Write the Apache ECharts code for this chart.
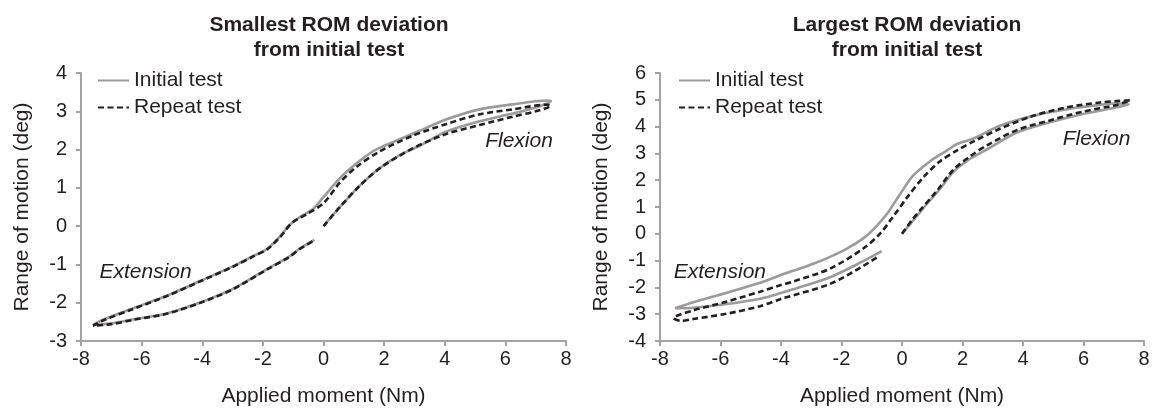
<!DOCTYPE html>
<html>
<head>
<meta charset="utf-8">
<script src="https://cdn.jsdelivr.net/npm/echarts@6/dist/echarts.min.js"></script>
<style>
  html, body { margin: 0; padding: 0; background: #fff; }
  #chart { width: 1153px; height: 412px; }
</style>
</head>
<body>
<div id="chart"></div>
<script>
// ROM hysteresis loops, [moment Nm, rotation deg]
const titles = ["Smallest ROM deviation\nfrom initial test", "Largest ROM deviation\nfrom initial test"];

const leftInitial = [
  [0, 0], [0.53, 0.49], [1.19, 1.05], [1.85, 1.51], [2.5, 1.85], [3.17, 2.1], [4.06, 2.47],
  [5.15, 2.74], [6.24, 2.94], [7.0, 3.1], [7.5, 3.27],
  [7.36, 3.28], [6.24, 3.18], [5.15, 3.05], [4.06, 2.79], [3.17, 2.49], [2.4, 2.23], [1.95, 2.08],
  [1.62, 1.95], [1.09, 1.64], [0.53, 1.24], [0, 0.76], [-0.36, 0.44], [-0.79, 0.23], [-1.12, 0.03],
  [-1.45, -0.28], [-1.85, -0.59], [-2.34, -0.79], [-2.99, -1.05], [-4.09, -1.44], [-5.18, -1.82],
  [-6.3, -2.15], [-7.2, -2.42], [-7.6, -2.58],
  [-7.0, -2.54], [-6.3, -2.44], [-5.18, -2.28], [-4.09, -2.0], [-2.99, -1.64], [-1.88, -1.13],
  [-1.12, -0.79], [-0.79, -0.59], [-0.3, -0.36]
];
const leftRepeat = [
  [0, 0], [0.53, 0.49], [1.19, 1.05], [1.85, 1.51], [2.94, 2.03], [4.06, 2.41], [5.15, 2.64],
  [6.24, 2.86], [7.0, 3.0], [7.5, 3.15],
  [7.36, 3.17], [6.24, 3.05], [5.15, 2.92], [4.06, 2.67], [2.94, 2.36], [1.85, 1.95], [1.09, 1.55],
  [0.53, 1.13], [0, 0.6], [-0.56, 0.31], [-1.02, 0.1], [-1.45, -0.3], [-1.85, -0.6], [-2.34, -0.8],
  [-2.99, -1.06], [-4.09, -1.45], [-5.18, -1.83], [-6.3, -2.17], [-7.2, -2.44], [-7.6, -2.6],
  [-7.0, -2.56], [-6.3, -2.45], [-5.18, -2.29], [-4.09, -2.01], [-2.99, -1.65], [-1.88, -1.14],
  [-1.12, -0.8], [-0.79, -0.6], [-0.3, -0.37]
];
const rightInitial = [
  [0, 0], [0.36, 0.48], [0.7, 0.95], [1.26, 1.68], [1.69, 2.3], [2.15, 2.72], [2.81, 3.15],
  [3.8, 3.78], [4.89, 4.16], [5.98, 4.47], [7.1, 4.72], [7.5, 4.83],
  [7.1, 4.86], [6.55, 4.81], [5.45, 4.65], [4.33, 4.4], [3.24, 4.03], [2.35, 3.55], [1.82, 3.35],
  [1.49, 3.11], [0.93, 2.71], [0.36, 2.16], [-0.07, 1.47], [-0.5, 0.74], [-0.96, 0.15],
  [-1.28, -0.17], [-1.82, -0.55], [-2.38, -0.86], [-2.93, -1.12], [-3.6, -1.38], [-4.03, -1.55],
  [-4.69, -1.83], [-5.79, -2.2], [-6.9, -2.55], [-7.5, -2.78],
  [-6.9, -2.76], [-5.79, -2.62], [-4.69, -2.42], [-4.03, -2.22], [-3.6, -2.07], [-2.38, -1.62],
  [-1.28, -1.02], [-0.67, -0.65]
];
const rightRepeat = [
  [0, 0], [0.36, 0.56], [0.6, 0.88], [1.16, 1.61], [1.69, 2.38], [2.25, 2.89], [2.81, 3.3],
  [3.8, 3.87], [4.89, 4.23], [5.98, 4.56], [7.1, 4.81], [7.55, 4.98],
  [7.1, 4.95], [6.55, 4.9], [5.45, 4.72], [4.33, 4.4], [3.24, 3.92], [2.35, 3.44], [1.82, 3.11],
  [1.26, 2.71], [0.69, 2.09], [0.17, 1.36], [-0.3, 0.63], [-0.73, 0.0], [-1.28, -0.55],
  [-2.38, -1.3], [-3.6, -1.78], [-4.03, -1.92], [-4.69, -2.16], [-5.79, -2.53], [-6.9, -2.86],
  [-7.55, -3.15],
  [-7.3, -3.25], [-6.9, -3.18], [-5.79, -2.98], [-4.69, -2.7], [-4.03, -2.44], [-2.38, -1.87],
  [-1.28, -1.2], [-0.84, -0.89]
];
const leftNotes = [["Extension", -5.87, -1.19], ["Flexion", 6.45, 2.21]];
const rightNotes = [["Extension", -6.02, -1.42], ["Flexion", 6.43, 3.55]];

const font = "Liberation Sans, Arial, sans-serif";
const ink = "#231f20";
const axisGrey = "#a3a3a3";
const grey = "#9b9b9b";

function xAxisFor(i) {
  return {
    type: "value", gridIndex: i, min: -8, max: 8, interval: 2,
    name: "Applied moment (Nm)", nameLocation: "middle", nameGap: 45,
    nameTextStyle: { fontFamily: font, fontSize: 21, color: ink },
    axisLine: { onZero: false, lineStyle: { color: axisGrey, width: 2 } },
    axisTick: { show: true, length: 5, lineStyle: { color: axisGrey, width: 2 } },
    axisLabel: { fontFamily: font, fontSize: 20, color: ink, margin: 8 },
    splitLine: { show: false }
  };
}
function yAxisFor(i, min, max) {
  return {
    type: "value", gridIndex: i, min: min, max: max, interval: 1,
    name: "Range of motion (deg)", nameLocation: "middle", nameGap: 48,
    nameTextStyle: { fontFamily: font, fontSize: 21, color: ink },
    axisLine: { onZero: false, lineStyle: { color: axisGrey, width: 2 } },
    axisTick: { show: true, length: 5, lineStyle: { color: axisGrey, width: 2 } },
    axisLabel: { fontFamily: font, fontSize: 20, color: ink, margin: 14 },
    splitLine: { show: false }
  };
}
function notesSeries(notes, i) {
  return {
    type: "scatter", xAxisIndex: i, yAxisIndex: i, silent: true, animation: false,
    symbolSize: 1, itemStyle: { color: "rgba(0,0,0,0)" },
    label: {
      show: true, position: "inside", formatter: p => p.data[2],
      fontFamily: font, fontSize: 21, fontStyle: "italic", color: ink,
      textBorderWidth: 0, opacity: 1
    },
    data: notes.map(n => [n[1], n[2], n[0]])
  };
}
function lineSeries(name, data, i, dashed) {
  return {
    name: name, type: "line", xAxisIndex: i, yAxisIndex: i, data: data,
    smooth: 0.3, showSymbol: false, symbol: "none", animation: false,
    lineStyle: dashed ? { color: ink, width: 2.6, type: [6, 3.5] } : { color: grey, width: 2.6 },
    itemStyle: { color: dashed ? ink : grey },
    z: dashed ? 3 : 2
  };
}

const chart = echarts.init(document.getElementById("chart"));
const legendBase = {
  orient: "vertical", top: 70, itemWidth: 31, itemHeight: 20, itemGap: 6, padding: 0,
  data: ["Initial test", "Repeat test"],
  itemStyle: { opacity: 0 },
  textStyle: { fontFamily: font, fontSize: 21, color: ink }
};

chart.setOption({
  backgroundColor: "#fff",
  animation: false,
  title: [
    { text: titles[0], left: 324, top: 8, textAlign: "center",
      textStyle: { fontFamily: font, fontSize: 21, fontWeight: "bold", color: ink, lineHeight: 25 } },
    { text: titles[1], left: 902, top: 8, textAlign: "center",
      textStyle: { fontFamily: font, fontSize: 21, fontWeight: "bold", color: ink, lineHeight: 25 } }
  ],
  legend: [
    Object.assign({}, legendBase, { left: 97 }),
    Object.assign({}, legendBase, { left: 678 })
  ],
  grid: [
    { left: 81, top: 73, width: 485, height: 273 },
    { left: 660, top: 73, width: 484, height: 274 }
  ],
  xAxis: [xAxisFor(0), xAxisFor(1)],
  yAxis: [yAxisFor(0, -3, 4), yAxisFor(1, -4, 6)],
  series: [
    lineSeries("Initial test", leftInitial, 0, false),
    lineSeries("Repeat test", leftRepeat, 0, true),
    lineSeries("Initial test", rightInitial, 1, false),
    lineSeries("Repeat test", rightRepeat, 1, true),
    notesSeries(leftNotes, 0),
    notesSeries(rightNotes, 1)
  ]
});
</script>
</body>
</html>
